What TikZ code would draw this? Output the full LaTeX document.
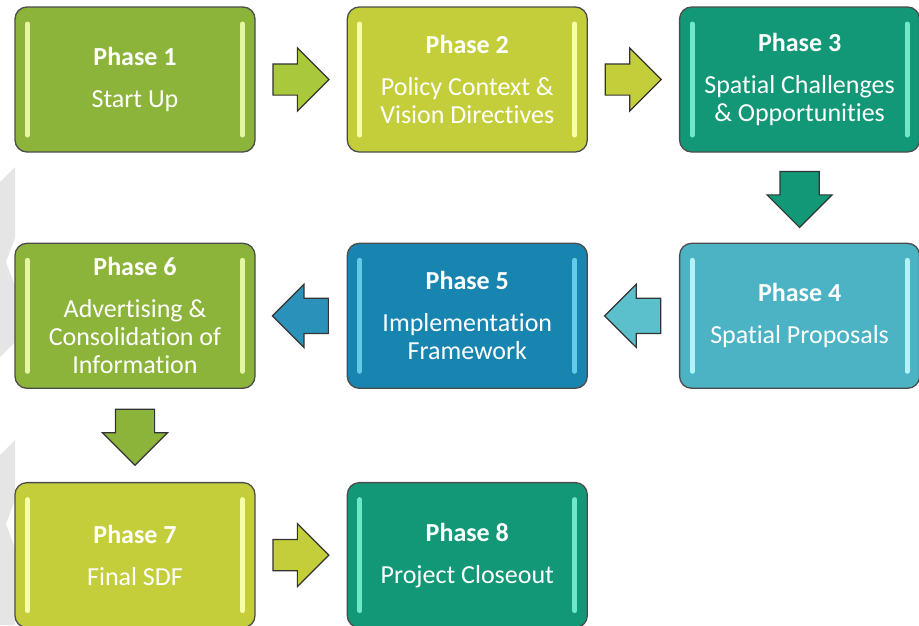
\documentclass[tikz,border=0pt]{standalone}
\usepackage{fontspec}
\setmainfont{Carlito}[Ligatures=NoCommon]
\usetikzlibrary{shapes.arrows}
\usetikzlibrary{positioning}

\definecolor{phgreen}{HTML}{8CB43A}
\definecolor{phlime}{HTML}{C3CE3A}
\definecolor{phteal}{HTML}{129877}
\definecolor{phcyan}{HTML}{4BB3C4}
\definecolor{phblue}{HTML}{1885B0}
\definecolor{shgreen}{HTML}{E4F7A0}
\definecolor{shlime}{HTML}{F6FFA8}
\definecolor{shteal}{HTML}{6FE8C8}
\definecolor{shcyan}{HTML}{B2F2F7}
\definecolor{shblue}{HTML}{63CBE8}
\definecolor{arlime}{HTML}{AAC83C}
\definecolor{arcyan}{HTML}{5CC0CC}
\definecolor{arblue}{HTML}{2A92BA}

\tikzstyle{box} = [rectangle, rounded corners=12pt, minimum width=240pt, minimum height=145pt, text centered, align=center, draw=black!70, line width=1.3pt, text=white]
\tikzstyle{flow} = [single arrow, single arrow head extend=16pt, minimum height=56pt, draw=black!80, line width=1.2pt]
\tikzstyle{every node}=[font=\fontsize{26}{28}\selectfont]
\tikzset{
  shine/.style={path picture={
    \draw[#1, line width=5pt, line cap=round] ([shift={(12.5pt,-17pt)}]path picture bounding box.north west) -- ([shift={(12.5pt,17pt)}]path picture bounding box.south west);
    \draw[#1, line width=5pt, line cap=round] ([shift={(-12.5pt,-17pt)}]path picture bounding box.north east) -- ([shift={(-12.5pt,17pt)}]path picture bounding box.south east);
  }},
  right arrow/.style={flow, inner xsep=0pt, inner ysep=15pt, xshift=-8pt},
  left arrow/.style={flow, inner xsep=0pt, inner ysep=17pt, single arrow head extend=14pt, shape border rotate=180, xshift=8pt},
  down arrow/.style={flow, inner xsep=19pt, inner ysep=0pt, single arrow head extend=13pt, shape border rotate=270, yshift=8pt}
}

\begin{document}
\begin{tikzpicture}
\useasboundingbox (0,0) rectangle (919pt,-625pt);

% grey chevrons at the left margin
\fill[black!10] (0,-182pt) -- (15pt,-167pt) -- (15pt,-238pt) -- (6pt,-262pt) -- (15pt,-286pt) -- (15pt,-342pt) -- (0,-357pt) -- cycle;
\fill[black!10] (0,-455pt) -- (15pt,-440pt) -- (15pt,-500pt) -- (6pt,-524pt) -- (15pt,-548pt) -- (15pt,-625pt) -- (0,-625pt) -- cycle;

\node (p1) [box, fill=phgreen, shine=shgreen] at (135pt,-79.5pt) {\textbf{Phase 1}\\[14pt]Start Up};
\node (p2) [box, right=91pt of p1, fill=phlime, shine=shlime] {\textbf{Phase 2}\\[14pt]Policy Context \&\\Vision Directives};
\node (p3) [box, right=91pt of p2, fill=phteal, shine=shteal] {\textbf{Phase 3}\\[14pt]Spatial Challenges\\\& Opportunities};
\node (p4) [box, below=90pt of p3, fill=phcyan, shine=shcyan] {\textbf{Phase 4}\\[14pt]Spatial Proposals};
\node (p5) [box, left=91pt of p4, fill=phblue, shine=shblue] {\textbf{Phase 5}\\[14pt]Implementation\\Framework};
\node (p6) [box, left=91pt of p5, fill=phgreen, shine=shgreen] {\textbf{Phase 6}\\[14pt]Advertising \&\\Consolidation of\\Information};
\node (p7) [box, below=93pt of p6, fill=phlime, shine=shlime] {\textbf{Phase 7}\\[14pt]Final SDF};
\node (p8) [box, right=91pt of p7, fill=phteal, shine=shteal] {\textbf{Phase 8}\\[14pt]Project Closeout};

% block arrows half way between the phases
\path (p1) -- node[right arrow, fill=arlime] (a12) {} (p2);
\path (p2) -- node[right arrow, fill=phlime] (a23) {} (p3);
\path (p3) -- node[down arrow, fill=phteal] (a34) {} (p4);
\path (p4) -- node[left arrow, fill=arcyan] (a45) {} (p5);
\path (p5) -- node[left arrow, fill=arblue] (a56) {} (p6);
\path (p6) -- node[down arrow, fill=phgreen] (a67) {} (p7);
\path (p7) -- node[right arrow, fill=phlime] (a78) {} (p8);

\end{tikzpicture}
\end{document}
